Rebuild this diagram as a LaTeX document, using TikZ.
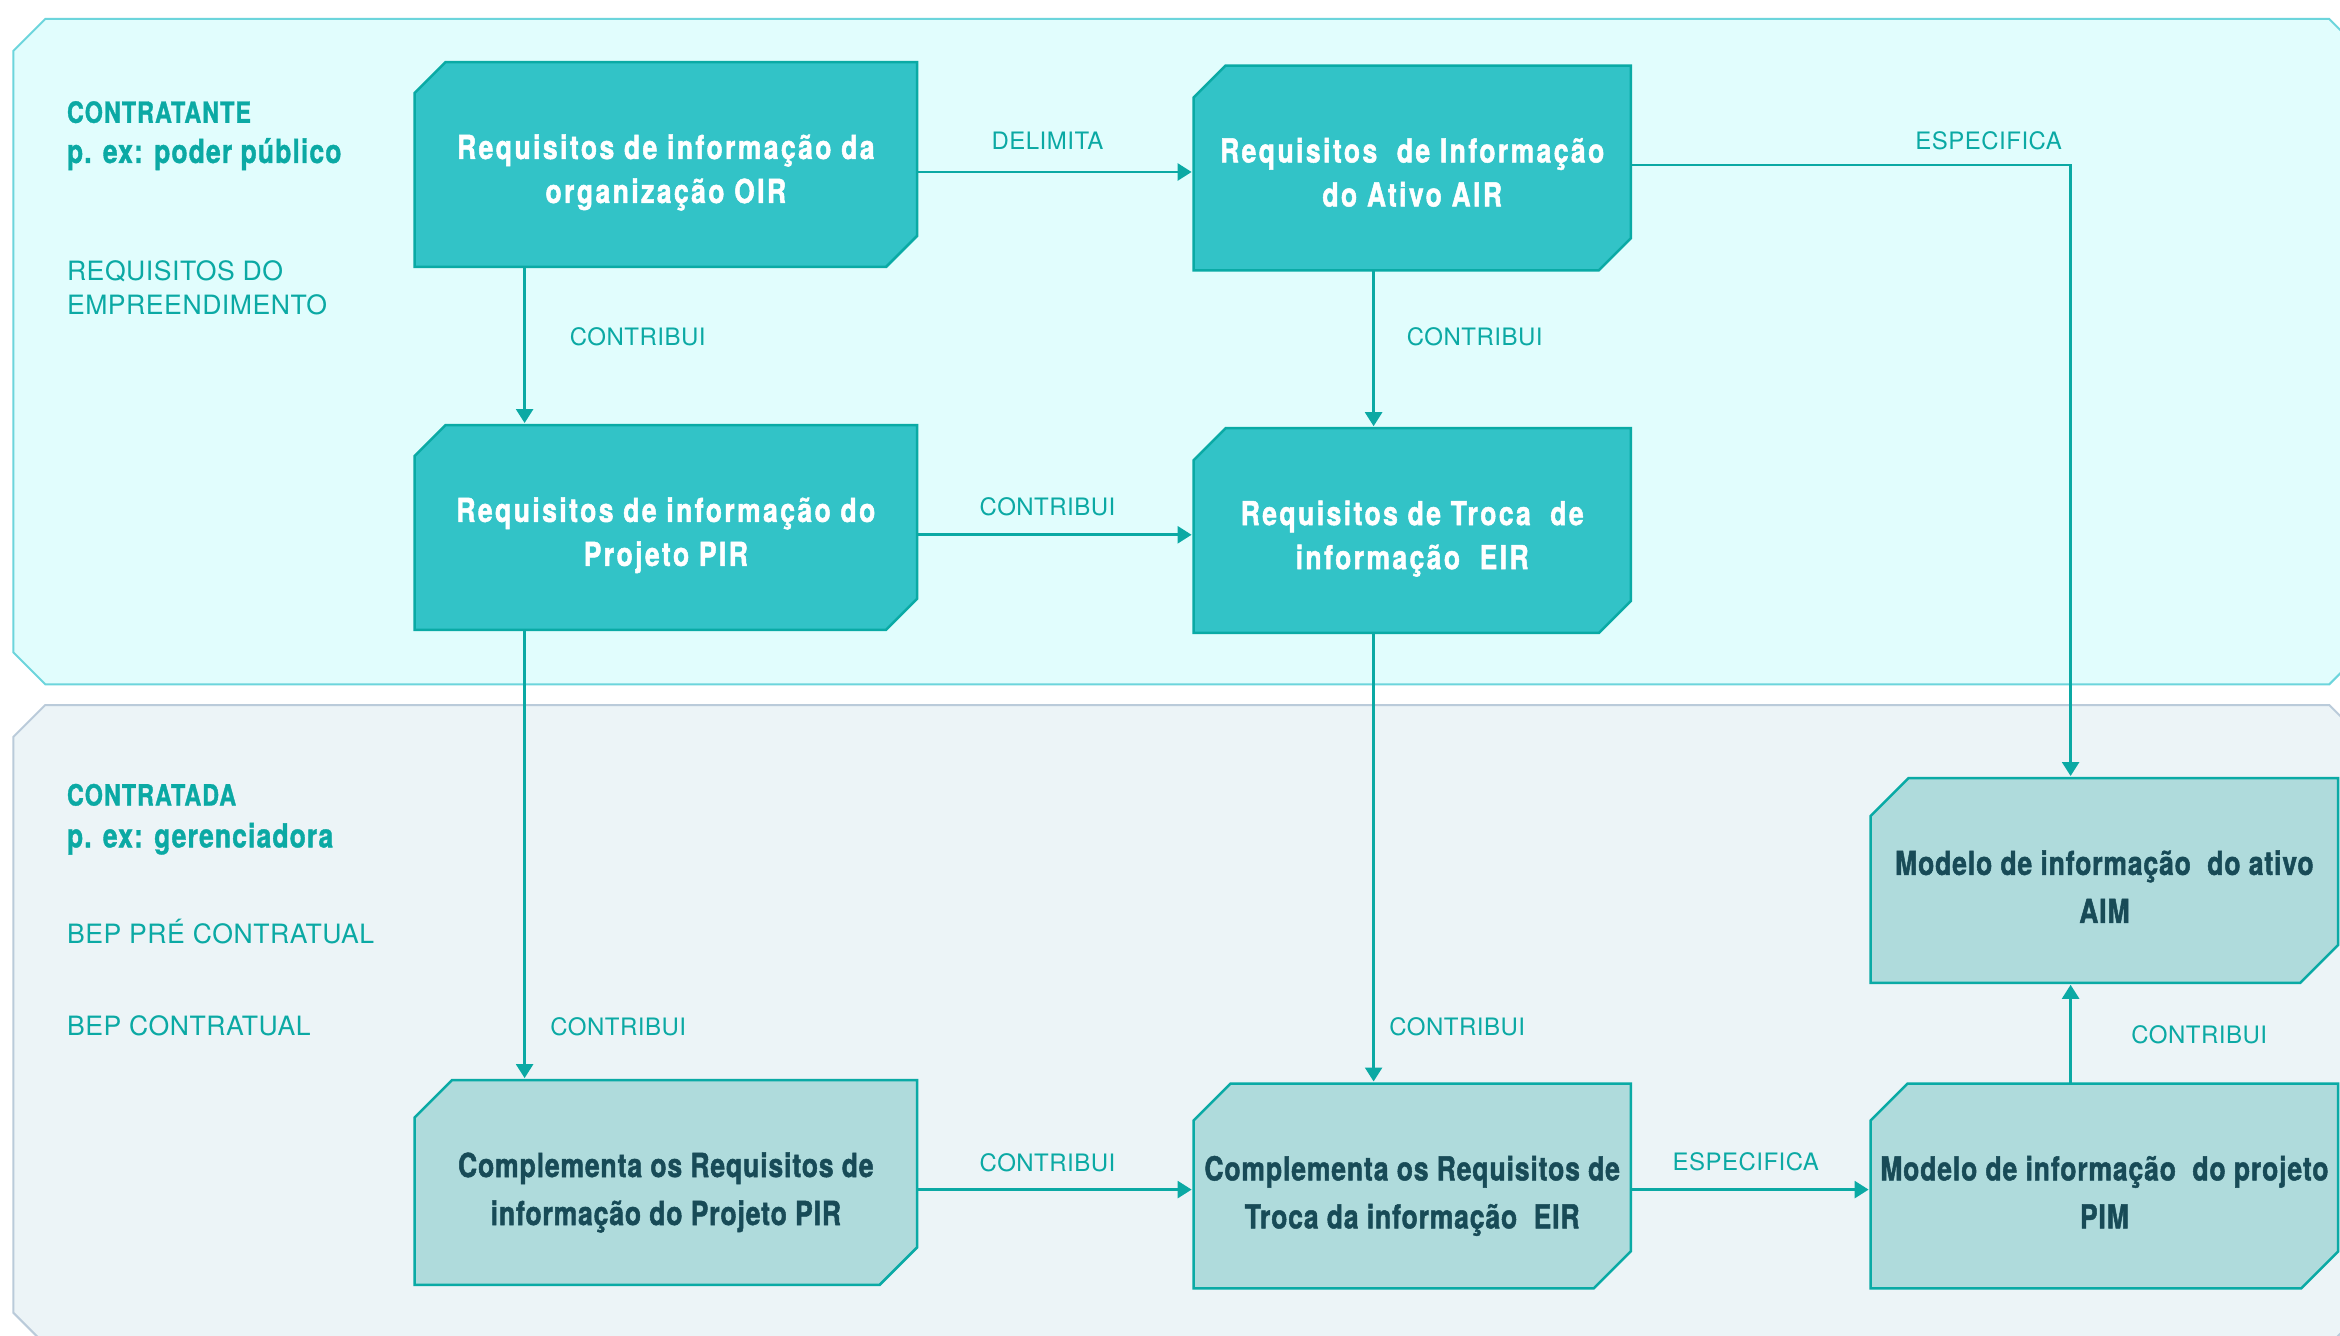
\documentclass[tikz,border=0pt]{standalone}
\usepackage{fontspec}
\setmainfont{TeX Gyre Heros}
\newfontfamily\lblfont{TeX Gyre Heros}[LetterSpace=2]
\newfontfamily\darkfont{TeX Gyre Heros}[FakeStretch=0.8,FakeBold=1.5,LetterSpace=7.5]
\newfontfamily\lightfont{TeX Gyre Heros}[FakeStretch=0.8,FakeBold=1.5,LetterSpace=2.8]
\newfontfamily\titlefont{TeX Gyre Heros}[FakeStretch=0.8,FakeBold=1.2,LetterSpace=3.5]
\usetikzlibrary{arrows.meta,calc}

\definecolor{teal1}{HTML}{0BA9A4}
\definecolor{topfill}{HTML}{E1FDFD}
\definecolor{topline}{HTML}{6CD5DC}
\definecolor{botfill}{HTML}{ECF4F7}
\definecolor{botline}{HTML}{BACBDA}
\definecolor{darkfill}{HTML}{32C3C7}
\definecolor{lightfill}{HTML}{AFDBDC}
\definecolor{boxline}{HTML}{0AAAA5}
\definecolor{ink}{HTML}{184B57}

\pgfdeclarelayer{panels}
\pgfdeclarelayer{shapes}
\pgfsetlayers{panels,shapes,main}

% two centred lines, first baseline a little above the node centre
\newcommand\twolines[2]{\raisebox{2.75pt}[0pt][0pt]{\begin{tabular}[t]{@{}c@{}}#1\\#2\end{tabular}}}

% chamfered outline (top-left and bottom-right corners cut) around a node
\newcommand\chamferbox[3]{%
  \begin{pgfonlayer}{shapes}
    \path[#3] ($(#1.north west)+(#2,0)$) -- (#1.north east)
      -- ($(#1.south east)+(0,-#2)$) -- ($(#1.south east)+(-#2,0)$)
      -- (#1.south west) -- ($(#1.north west)+(0,#2)$) -- cycle;
  \end{pgfonlayer}}

\begin{document}
\begin{tikzpicture}[x=0.5pt,y=-0.5pt,
  boxn/.style={rectangle,inner sep=0pt,minimum height=102pt},
  widebox/.style={boxn,minimum width=250.85pt},
  midbox/.style={boxn,minimum width=218.2pt},
  rightbox/.style={boxn,minimum width=233.4pt},
  darktext/.style={text=white,font=\darkfont\bfseries\fontsize{16.5}{22}\selectfont},
  lighttext/.style={text=ink,font=\lightfont\bfseries\fontsize{16.5}{24}\selectfont},
  darkshape/.style={fill=darkfill,draw=boxline,line width=1.25pt},
  lightshape/.style={fill=lightfill,draw=boxline,line width=1.25pt},
  arr/.style={draw=teal1,line width=1.3pt,shorten >=1pt,-{Triangle[length=7pt,width=8.5pt]}},
  lbl/.style={text=teal1,font=\lblfont\fontsize{12}{14}\selectfont,inner sep=0pt,anchor=base},
  lblw/.style={lbl,anchor=base west},
  side/.style={text=teal1,font=\lblfont\fontsize{13.3}{16.85}\selectfont,inner sep=0pt,anchor=base west},
  sidetitle/.style={text=teal1,font=\titlefont\bfseries\fontsize{14.6}{17}\selectfont,inner sep=0pt,anchor=base west},
  sidesub/.style={text=teal1,font=\titlefont\bfseries\fontsize{16.5}{19}\selectfont,inner sep=0pt,anchor=base west},
]
\useasboundingbox (0,0) rectangle (2340,1336);

% background panels
\begin{pgfonlayer}{panels}
  \fill[white] (0,0) rectangle (2340,1336);
  \path[fill=topfill,draw=topline,line width=1pt]
    (45.3,19) -- (2329.3,19) -- (2361.3,51) -- (2361.3,652.3) -- (2329.3,684.3)
    -- (45.3,684.3) -- (13.3,652.3) -- (13.3,51) -- cycle;
  \path[fill=botfill,draw=botline,line width=1pt]
    (45.3,705) -- (2329.3,705) -- (2361.3,737) -- (2361.3,1312.7) -- (2329.3,1344.7)
    -- (45.3,1344.7) -- (13.3,1312.7) -- (13.3,737) -- cycle;
\end{pgfonlayer}

% side captions
\node[sidetitle] (contratante) at (66.6,122.8) {CONTRATANTE};
\node[sidesub] (poder) at (66.6,163) {p. ex: poder público};
\node[side] (empreend) at (66.6,281) {\begin{tabular}[t]{@{}l@{}}REQUISITOS DO\\EMPREENDIMENTO\end{tabular}};
\node[sidetitle] (contratada) at (66.6,805.5) {CONTRATADA};
\node[sidesub] (gerenc) at (66.6,847.4) {p. ex: gerenciadora};
\node[side] (bepre) at (66.6,943.6) {BEP PRÉ CONTRATUAL};
\node[side] (bepcon) at (66.6,1035.6) {BEP CONTRATUAL};

% requirement boxes
\node[widebox,darktext] (oir) at (665.85,164.5) {\twolines{Requisitos de informação da}{organização OIR}};
\chamferbox{oir}{31}{darkshape}
\node[midbox,darktext] (air) at (1412.2,168) {\twolines{Requisitos~ de Informação}{do Ativo AIR}};
\chamferbox{air}{32}{darkshape}
\node[widebox,darktext] (pir) at (665.85,527.45) {\twolines{Requisitos de informação do}{Projeto PIR}};
\chamferbox{pir}{31}{darkshape}
\node[midbox,darktext] (eir) at (1412.2,530.6) {\twolines{Requisitos de Troca~ de}{informação~ EIR}};
\chamferbox{eir}{32}{darkshape}

% delivery boxes
\node[widebox,lighttext] (cpir) at (665.85,1182.5) {\twolines{Complementa os Requisitos de}{informação do Projeto PIR}};
\chamferbox{cpir}{37.5}{lightshape}
\node[midbox,lighttext] (ceir) at (1412.2,1185.9) {\twolines{Complementa os Requisitos de}{Troca da informação~ EIR}};
\chamferbox{ceir}{37}{lightshape}
\node[rightbox,lighttext] (aim) at (2104.4,880.4) {\twolines{Modelo de informação~ do ativo}{AIM}};
\chamferbox{aim}{38}{lightshape}
\node[rightbox,lighttext] (pim) at (2104.4,1185.9) {\twolines{Modelo de informação~ do projeto}{PIM}};
\chamferbox{pim}{37}{lightshape}

% connector anchor points
\coordinate (h1) at ($(oir.east)+(0,7.5)$);
\coordinate (h4) at ($(pir.east)+(0,7.35)$);
\coordinate (h8) at ($(cpir.east)+(0,7.1)$);
\coordinate (h5) at ($(air.east)+(0,-3)$);
\coordinate (v1) at ($(oir.south west)+(110,0)$);
\coordinate (v2) at ($(air.south west)+(180,0)$);
\coordinate (k) at ($(aim.north west)+(200,0)$);

% connectors
\draw[arr] (h1) -- (h1 -| air.west);
\draw[arr] (h4) -- (h4 -| eir.west);
\draw[arr] (h8) -- (h8 -| ceir.west);
\draw[arr] (h8 -| ceir.east) -- (h8 -| pim.west);
\draw[arr] (v1) -- (v1 |- pir.north);
\draw[arr] (v1 |- pir.south) -- (v1 |- cpir.north);
\draw[arr] (v2) -- (v2 |- eir.north);
\draw[arr] (v2 |- eir.south) -- (v2 |- ceir.north);
\draw[arr] (h5) -| (k);
\draw[arr] (k |- pim.north) -- (k |- aim.south);

% connector labels
\node[lbl] (l1) at (1047.5,149.3) {DELIMITA};
\node[lbl] (l4) at (1047.5,515.7) {CONTRIBUI};
\node[lbl] (l8) at (1047.5,1171) {CONTRIBUI};
\node[lbl] (l9) at (1745.8,1170.4) {ESPECIFICA};
\node[lbl] (l5) at (1988.6,149.6) {ESPECIFICA};
\node[lblw] (l2) at (569.5,346) {CONTRIBUI};
\node[lblw] (l3) at (1406.5,346) {CONTRIBUI};
\node[lblw] (l6) at (550,1035.6) {CONTRIBUI};
\node[lblw] (l7) at (1389,1035.6) {CONTRIBUI};
\node[lblw] (l10) at (2131,1043) {CONTRIBUI};
\end{tikzpicture}
\end{document}
